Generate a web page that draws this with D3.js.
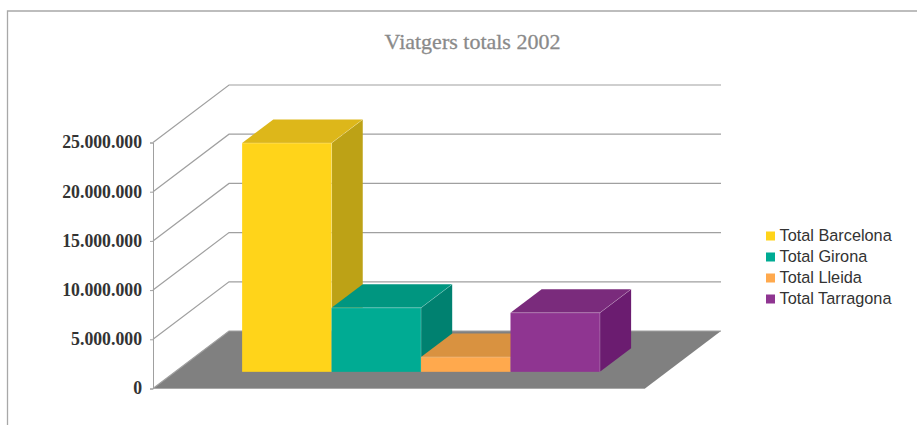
<!DOCTYPE html>
<html>
<head>
<meta charset="utf-8">
<script src="https://cdn.jsdelivr.net/npm/d3@7"></script>
<style>
  html, body { margin: 0; padding: 0; background: #fff; overflow: hidden; }
</style>
</head>
<body>
<script>
const categories = ["Total Barcelona", "Total Girona", "Total Lleida", "Total Tarragona"];
const values = [23250000, 6500000, 1500000, 6000000];
const tickValues = [0, 5000000, 10000000, 15000000, 20000000, 25000000];
const colors = ["#ffd41a", "#00ab93", "#ffa94d", "#8f3591"];
const topColors = ["#ddb71a", "#009680", "#d99240", "#7a2b7c"];
const sideColors = ["#bda216", "#008170", "#b87a35", "#6b1c70"];

const width = 917;
const height = 425;

// 3D box: how far the back wall sits from the front plane
const depthX = 76;
const depthY = 57.5;
const barFront = 0.29;
const barBack = 0.7;

const svg = d3.select("body")
  .append("svg")
  .attr("width", width)
  .attr("height", height)
  .style("display", "block");

const x = d3.scaleBand()
  .domain(categories)
  .range([153, 645])
  .paddingInner(0)
  .paddingOuter(0.75);

const y = d3.scaleLinear()
  .domain([0, 25000000])
  .range([388.5, 142.5]);

const px = (v, d) => v + depthX * d;
const py = (v, d) => y(v) - depthY * d;
const poly = pts => pts.map(p => p.join(",")).join(" ");

// outer frame, cut off at the right and bottom like the original
svg.append("path")
  .attr("d", `M7.5,${height}V11H${width}`)
  .attr("fill", "none")
  .attr("stroke", "#a8a8a8")
  .attr("stroke-width", 1.3);

svg.append("text")
  .attr("x", 472.5)
  .attr("y", 48.5)
  .attr("text-anchor", "middle")
  .attr("font-family", "'Liberation Serif', serif")
  .attr("font-size", 22)
  .attr("fill", "#8a8a8a")
  .attr("stroke", "#8a8a8a")
  .attr("stroke-width", 0.3)
  .text("Viatgers totals 2002");

// floor
const x0 = x.range()[0];
const x1 = x.range()[1];
svg.append("polygon")
  .attr("points", poly([[x0, py(0, 0)], [x1, py(0, 0)], [px(x1, 1), py(0, 1)], [px(x0, 1), py(0, 1)]]))
  .attr("fill", "#808080");

// gridlines run along the side wall then the back wall
svg.append("g")
  .selectAll("path")
  .data(tickValues)
  .join("path")
  .attr("d", d => `M${x0},${py(d, 0)}L${px(x0, 1)},${py(d, 1)}H${px(x1, 1)}`)
  .attr("fill", "none")
  .attr("stroke", "#a0a0a0")
  .attr("stroke-width", 1.2);

svg.append("line")
  .attr("x1", x0).attr("x2", x1)
  .attr("y1", py(0, 0)).attr("y2", py(0, 0))
  .attr("stroke", "#a8a8a8");

const yAxis = d3.axisLeft(y)
  .tickValues(tickValues)
  .tickSize(3)
  .tickFormat(d => d3.format(",")(d).replace(/,/g, "."));

const yAxisGroup = svg.append("g")
  .attr("transform", `translate(${x0}, 0)`)
  .call(yAxis);

yAxisGroup.selectAll("path, line").attr("stroke", "#a0a0a0");

// the original numerals are narrower than Liberation Serif, so squeeze them
const labelSqueeze = 0.91;
yAxisGroup.selectAll("text")
  .attr("x", -11 / labelSqueeze)
  .attr("dy", "0.28em")
  .attr("transform", `scale(${labelSqueeze}, 1)`)
  .attr("font-family", "'Liberation Serif', serif")
  .attr("font-size", 19.5)
  .attr("font-weight", "bold")
  .attr("fill", "#333");

// bars, one box per category
const bars = svg.append("g")
  .selectAll("g")
  .data(categories)
  .join("g");

const idx = c => categories.indexOf(c);
const left = (c, d) => px(x(c), d);
const right = (c, d) => px(x(c) + x.bandwidth(), d);
const val = c => values[idx(c)];

bars.append("polygon")
  .attr("points", c => poly([
    [right(c, barFront), py(0, barFront)],
    [right(c, barBack), py(0, barBack)],
    [right(c, barBack), py(val(c), barBack)],
    [right(c, barFront), py(val(c), barFront)]
  ]))
  .attr("fill", c => sideColors[idx(c)]);

bars.append("polygon")
  .attr("points", c => poly([
    [left(c, barFront), py(val(c), barFront)],
    [right(c, barFront), py(val(c), barFront)],
    [right(c, barBack), py(val(c), barBack)],
    [left(c, barBack), py(val(c), barBack)]
  ]))
  .attr("fill", c => topColors[idx(c)]);

bars.append("rect")
  .attr("x", c => left(c, barFront))
  .attr("y", c => py(val(c), barFront))
  .attr("width", x.bandwidth())
  .attr("height", c => py(0, barFront) - py(val(c), barFront))
  .attr("fill", c => colors[idx(c)]);

// faint highlight along the box edges
bars.append("path")
  .attr("d", c => `M${left(c, barFront)},${py(val(c), barFront)}`
    + `H${right(c, barFront)}V${py(0, barFront)}`
    + `M${right(c, barFront)},${py(val(c), barFront)}`
    + `L${right(c, barBack)},${py(val(c), barBack)}`)
  .attr("fill", "none")
  .attr("stroke", "#fff")
  .attr("stroke-opacity", 0.22)
  .attr("stroke-width", 1);

// legend
const legendY = d3.scalePoint()
  .domain(categories)
  .range([236, 299]);

const legend = svg.append("g")
  .selectAll("g")
  .data(categories)
  .join("g")
  .attr("transform", c => `translate(766, ${legendY(c)})`);

legend.append("rect")
  .attr("x", 0)
  .attr("y", -4.5)
  .attr("width", 9)
  .attr("height", 9)
  .attr("fill", c => colors[idx(c)]);

legend.append("text")
  .attr("x", 13.5)
  .attr("y", 4.5)
  .attr("font-family", "'Liberation Sans', sans-serif")
  .attr("font-size", 16.3)
  .attr("fill", "#333")
  .text(c => c);
</script>
</body>
</html>
